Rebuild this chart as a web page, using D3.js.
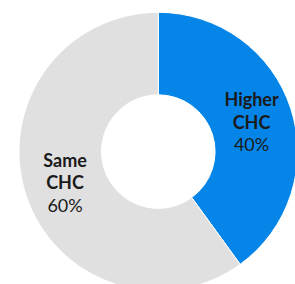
<!DOCTYPE html>
<html>
<head>
<meta charset="utf-8">
<script src="https://cdn.jsdelivr.net/npm/d3@7"></script>
<style>
 html, body { margin: 0; padding: 0; background: #fff; overflow: hidden; }
 text { font-family: Lato, "Noto Sans", sans-serif; fill: #1a1a1a; }
</style>
</head>
<body>
<div id="chart"></div>
<script>
// Chart data
var categories = ["Higher CHC", "Same CHC"];
var shares = [40, 60];
var sliceColors = ["#0585e8", "#e0e0e0"];

var width = 295, height = 284;
var cx = 158.3, cy = 151.6;		// donut centre
var outerR = 139.3, innerR = 56.8;

var svg = d3.select("#chart").append("svg")
  .attr("width", width)
  .attr("height", height);

var g = svg.append("g")
  .attr("transform", "translate(" + cx + "," + cy + ")");

var pie = d3.pie().sort(null).value(function(d){ return d.value; });
var arc = d3.arc().innerRadius(innerR).outerRadius(outerR);

var data = categories.map(function(c, i){ return {name: c, value: shares[i], color: sliceColors[i]}; });
var arcs = pie(data);

g.selectAll("path.slice")
  .data(arcs)
  .enter().append("path")
  .attr("class", "slice")
  .attr("d", arc)
  .attr("fill", function(d){ return d.data.color; })
  .attr("stroke", "#fff")
  .attr("stroke-width", 1);

// labels: name split into two lines, then percentage
var labels = g.selectAll("text.lbl")
  .data(arcs)
  .enter().append("text")
  .attr("class", "lbl")
  .attr("text-anchor", "middle")
  .attr("font-size", "18px")
  .attr("transform", function(d){
    var c = arc.centroid(d);
    return "translate(" + c[0] + "," + c[1] + ")";
  });

labels.each(function(d){
  var t = d3.select(this);
  var words = d.data.name.split(" ");
  t.append("tspan").attr("x", 0).attr("y", -15).attr("font-weight", "bold").text(words[0]);
  t.append("tspan").attr("x", 0).attr("y", 7.5).attr("font-weight", "bold").text(words[1]);
  t.append("tspan").attr("x", 0).attr("y", 30).attr("font-weight", "normal").text(d.data.value + "%");
});
</script>
</body>
</html>
